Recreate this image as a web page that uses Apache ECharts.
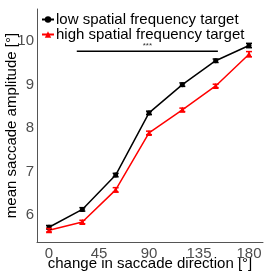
<!DOCTYPE html>
<html><head><meta charset="utf-8">
<script src="https://cdn.jsdelivr.net/npm/echarts@6/dist/echarts.min.js"></script>
<style>html,body{margin:0;padding:0;background:#fff}#c{width:273px;height:273px}</style>
</head><body><div id="c"></div>
<script>
var directions = [0, 30, 60, 90, 120, 150, 180];
var lowSF = [5.72, 6.13, 6.92, 8.35, 9.0, 9.55, 9.9];
var lowSFErr = [0.04, 0.04, 0.04, 0.04, 0.04, 0.04, 0.05];
var highSF = [5.65, 5.84, 6.58, 7.89, 8.42, 8.97, 9.7];
var highSFErr = [0.04, 0.04, 0.05, 0.04, 0.04, 0.04, 0.06];
var xTicks = [0, 45, 90, 135, 180];
var yTicks = [6, 7, 8, 9, 10];
var sigX = [25, 152];
var sigY = 9.77;
var sigText = '***';

function pts(vals){ return directions.map(function(d,i){ return [d, vals[i]]; }); }
function errData(vals, errs){ return directions.map(function(d,i){ return [d, vals[i]-errs[i], vals[i]+errs[i]]; }); }
function errRender(color){
  return function(params, api){
    var x = api.value(0);
    var lo = api.coord([x, api.value(1)]);
    var hi = api.coord([x, api.value(2)]);
    var w = 3;
    var st = {stroke: color, lineWidth: 1.5};
    return {type:'group', children:[
      {type:'line', shape:{x1:lo[0],y1:lo[1],x2:hi[0],y2:hi[1]}, style:st},
      {type:'line', shape:{x1:lo[0]-w,y1:lo[1],x2:lo[0]+w,y2:lo[1]}, style:st},
      {type:'line', shape:{x1:hi[0]-w,y1:hi[1],x2:hi[0]+w,y2:hi[1]}, style:st}
    ]};
  };
}
var chart = echarts.init(document.getElementById('c'));
var font = 'Liberation Sans, Arial, sans-serif';
chart.setOption({
  animation: false,
  grid: {left: 37, right: 10, top: 9, bottom: 31, containLabel: false, outerBoundsMode: 'none'},
  legend: {
    orient: 'vertical', left: 36, top: 7, itemGap: 0, itemWidth: 12, itemHeight: 8,
    data: ['low spatial frequency target', 'high spatial frequency target'],
    textStyle: {fontFamily: font, fontSize: 15, color: '#000', padding: [0,0,0,-3]}
  },
  xAxis: {
    type: 'value', min: -10.8, max: 192.6,
    name: 'change in saccade direction [°]', nameLocation: 'middle', nameGap: 14, nameMoveOverlap: false,
    nameTextStyle: {fontFamily: font, fontSize: 15, color: '#000'},
    axisLine: {show: true, onZero: false, lineStyle: {color: '#555', width: 1}},
    axisTick: {show: false},
    splitLine: {show: false},
    axisLabel: {customValues: xTicks, fontFamily: font, fontSize: 15, color: '#4d4d4d', margin: 4}
  },
  yAxis: {
    type: 'value', min: 5.38, max: 10.74,
    name: 'mean saccade amplitude [°]', nameLocation: 'middle', nameGap: 18, nameRotate: 90, nameMoveOverlap: false,
    nameTextStyle: {fontFamily: font, fontSize: 15, color: '#000'},
    axisLine: {show: true, onZero: false, lineStyle: {color: '#555', width: 1}},
    axisTick: {show: false},
    splitLine: {show: false},
    axisLabel: {customValues: yTicks, showMinLabel: true, showMaxLabel: true, fontFamily: font, fontSize: 15, color: '#4d4d4d', margin: 3}
  },
  series: [
    {name: 'low spatial frequency target', type: 'line', data: pts(lowSF), symbol: 'circle', symbolSize: 5,
     itemStyle: {color: '#000'}, lineStyle: {color: '#000', width: 1.5}, z: 3},
    {name: 'high spatial frequency target', type: 'line', data: pts(highSF), symbol: 'triangle', symbolSize: 6,
     itemStyle: {color: '#ff0000'}, lineStyle: {color: '#ff0000', width: 1.5}, z: 3},
    {type: 'custom', data: errData(lowSF, lowSFErr), renderItem: errRender('#000'), z: 4},
    {type: 'custom', data: errData(highSF, highSFErr), renderItem: errRender('#ff0000'), z: 4},
    {type: 'line', data: [[sigX[0], sigY], [sigX[1], sigY]], symbol: 'none', silent: true,
     lineStyle: {color: '#000', width: 1.5},
     markPoint: {symbol: 'rect', symbolSize: 0, data: [{coord: [(sigX[0]+sigX[1])/2, sigY]}],
       label: {show: true, formatter: sigText, position: 'top', distance: 1, fontSize: 8, color: '#333', fontFamily: font}}}
  ]
});
</script></body></html>
